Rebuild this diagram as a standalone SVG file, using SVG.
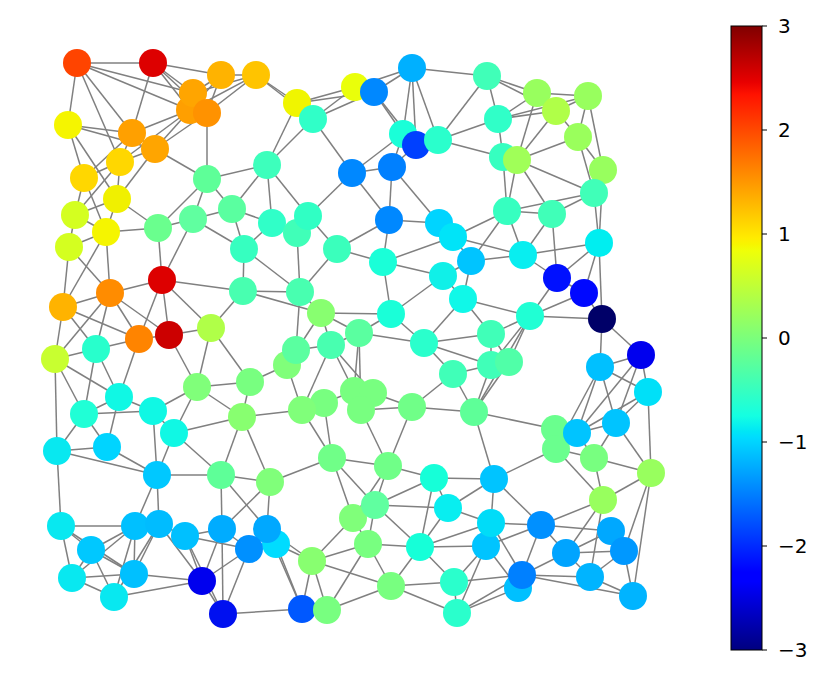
<svg xmlns="http://www.w3.org/2000/svg" width="830" height="683" viewBox="0 0 830 683">
<style>
.e line{stroke:#808080;stroke-width:1.5}
.n circle{stroke:none}
.t{font-family:"DejaVu Sans","Liberation Sans",sans-serif;font-size:20px;fill:#000}
.tick{stroke:#000;stroke-width:1}
</style>
<defs>
<linearGradient id="jet" x1="0" y1="1" x2="0" y2="0">
<stop offset="0" stop-color="#000080"/>
<stop offset="0.11" stop-color="#0000ff"/>
<stop offset="0.125" stop-color="#0000ff"/>
<stop offset="0.34" stop-color="#00dbff"/>
<stop offset="0.35" stop-color="#00e6f6"/>
<stop offset="0.375" stop-color="#14ffe2"/>
<stop offset="0.64" stop-color="#efff08"/>
<stop offset="0.65" stop-color="#f7f500"/>
<stop offset="0.66" stop-color="#ffec00"/>
<stop offset="0.89" stop-color="#ff1300"/>
<stop offset="0.91" stop-color="#e80000"/>
<stop offset="1" stop-color="#800000"/>
</linearGradient>
</defs>
<rect width="830" height="683" fill="#fff"/>
<g id="connectors" class="e">
<line x1="77" y1="63" x2="153" y2="63"/><line x1="77" y1="63" x2="193" y2="93"/><line x1="77" y1="63" x2="190" y2="110"/><line x1="77" y1="63" x2="68" y2="125"/><line x1="77" y1="63" x2="132" y2="133"/><line x1="77" y1="63" x2="120" y2="162"/>
<line x1="153" y1="63" x2="221" y2="75"/><line x1="153" y1="63" x2="193" y2="93"/><line x1="153" y1="63" x2="190" y2="110"/><line x1="153" y1="63" x2="207" y2="113"/><line x1="153" y1="63" x2="132" y2="133"/>
<line x1="221" y1="75" x2="256" y2="75"/><line x1="221" y1="75" x2="193" y2="93"/><line x1="221" y1="75" x2="190" y2="110"/><line x1="221" y1="75" x2="207" y2="113"/>
<line x1="256" y1="75" x2="193" y2="93"/><line x1="256" y1="75" x2="190" y2="110"/><line x1="256" y1="75" x2="207" y2="113"/><line x1="256" y1="75" x2="297" y2="103"/><line x1="256" y1="75" x2="313" y2="119"/>
<line x1="193" y1="93" x2="190" y2="110"/><line x1="193" y1="93" x2="207" y2="113"/><line x1="190" y1="110" x2="207" y2="113"/>
<line x1="68" y1="125" x2="132" y2="133"/><line x1="68" y1="125" x2="155" y2="149"/><line x1="68" y1="125" x2="84" y2="178"/><line x1="68" y1="125" x2="117" y2="199"/>
<line x1="132" y1="133" x2="190" y2="110"/><line x1="132" y1="133" x2="155" y2="149"/><line x1="132" y1="133" x2="120" y2="162"/><line x1="132" y1="133" x2="84" y2="178"/>
<line x1="155" y1="149" x2="190" y2="110"/><line x1="155" y1="149" x2="207" y2="113"/><line x1="155" y1="149" x2="120" y2="162"/><line x1="155" y1="149" x2="117" y2="199"/><line x1="155" y1="149" x2="207" y2="179"/>
<line x1="207" y1="113" x2="207" y2="179"/>
<line x1="120" y1="162" x2="84" y2="178"/><line x1="120" y1="162" x2="117" y2="199"/><line x1="120" y1="162" x2="75" y2="215"/><line x1="120" y1="162" x2="190" y2="110"/>
<line x1="84" y1="178" x2="75" y2="215"/><line x1="84" y1="178" x2="106" y2="232"/>
<line x1="117" y1="199" x2="75" y2="215"/><line x1="117" y1="199" x2="106" y2="232"/><line x1="117" y1="199" x2="158" y2="228"/>
<line x1="75" y1="215" x2="106" y2="232"/><line x1="75" y1="215" x2="69" y2="247"/>
<line x1="106" y1="232" x2="69" y2="247"/><line x1="106" y1="232" x2="158" y2="228"/><line x1="106" y1="232" x2="110" y2="293"/><line x1="106" y1="232" x2="63" y2="307"/>
<line x1="69" y1="247" x2="110" y2="293"/><line x1="69" y1="247" x2="63" y2="307"/>
<line x1="207" y1="179" x2="232" y2="209"/><line x1="207" y1="179" x2="193" y2="219"/><line x1="207" y1="179" x2="158" y2="228"/><line x1="207" y1="179" x2="267" y2="165"/>
<line x1="232" y1="209" x2="193" y2="219"/><line x1="232" y1="209" x2="267" y2="165"/><line x1="232" y1="209" x2="244" y2="249"/><line x1="232" y1="209" x2="272" y2="223"/>
<line x1="193" y1="219" x2="158" y2="228"/><line x1="193" y1="219" x2="244" y2="249"/><line x1="193" y1="219" x2="162" y2="280"/><line x1="158" y1="228" x2="162" y2="280"/>
<line x1="267" y1="165" x2="297" y2="103"/><line x1="267" y1="165" x2="313" y2="119"/><line x1="267" y1="165" x2="308" y2="216"/><line x1="267" y1="165" x2="272" y2="223"/>
<line x1="244" y1="249" x2="272" y2="223"/><line x1="244" y1="249" x2="300" y2="292"/><line x1="244" y1="249" x2="243" y2="291"/>
<line x1="297" y1="103" x2="355" y2="87"/><line x1="297" y1="103" x2="374" y2="92"/><line x1="297" y1="103" x2="313" y2="119"/>
<line x1="313" y1="119" x2="355" y2="87"/><line x1="313" y1="119" x2="374" y2="92"/><line x1="313" y1="119" x2="352" y2="173"/>
<line x1="355" y1="87" x2="412" y2="68"/><line x1="374" y1="92" x2="412" y2="68"/>
<line x1="412" y1="68" x2="403" y2="134"/><line x1="412" y1="68" x2="416" y2="145"/><line x1="412" y1="68" x2="438" y2="140"/><line x1="412" y1="68" x2="487" y2="76"/>
<line x1="374" y1="92" x2="403" y2="134"/><line x1="374" y1="92" x2="416" y2="145"/>
<line x1="403" y1="134" x2="352" y2="173"/><line x1="416" y1="145" x2="392" y2="167"/><line x1="403" y1="134" x2="392" y2="167"/>
<line x1="352" y1="173" x2="392" y2="167"/><line x1="352" y1="173" x2="389" y2="220"/><line x1="352" y1="173" x2="308" y2="216"/>
<line x1="392" y1="167" x2="389" y2="220"/><line x1="392" y1="167" x2="439" y2="223"/>
<line x1="389" y1="220" x2="439" y2="223"/><line x1="389" y1="220" x2="337" y2="249"/><line x1="389" y1="220" x2="383" y2="262"/>
<line x1="438" y1="140" x2="487" y2="76"/><line x1="438" y1="140" x2="498" y2="119"/><line x1="438" y1="140" x2="503" y2="157"/>
<line x1="308" y1="216" x2="297" y2="233"/><line x1="308" y1="216" x2="337" y2="249"/><line x1="297" y1="233" x2="272" y2="223"/><line x1="297" y1="233" x2="300" y2="292"/>
<line x1="337" y1="249" x2="383" y2="262"/><line x1="337" y1="249" x2="300" y2="292"/>
<line x1="487" y1="76" x2="537" y2="93"/><line x1="487" y1="76" x2="556" y2="111"/><line x1="487" y1="76" x2="498" y2="119"/>
<line x1="537" y1="93" x2="588" y2="96"/><line x1="537" y1="93" x2="498" y2="119"/><line x1="537" y1="93" x2="517" y2="160"/>
<line x1="588" y1="96" x2="556" y2="111"/><line x1="588" y1="96" x2="498" y2="119"/><line x1="588" y1="96" x2="578" y2="137"/><line x1="588" y1="96" x2="603" y2="170"/>
<line x1="556" y1="111" x2="498" y2="119"/><line x1="556" y1="111" x2="517" y2="160"/><line x1="556" y1="111" x2="578" y2="137"/>
<line x1="498" y1="119" x2="503" y2="157"/><line x1="578" y1="137" x2="517" y2="160"/><line x1="578" y1="137" x2="603" y2="170"/><line x1="578" y1="137" x2="594" y2="193"/>
<line x1="503" y1="157" x2="507" y2="211"/><line x1="517" y1="160" x2="594" y2="193"/><line x1="517" y1="160" x2="507" y2="211"/><line x1="517" y1="160" x2="552" y2="214"/>
<line x1="603" y1="170" x2="594" y2="193"/><line x1="603" y1="170" x2="599" y2="243"/>
<line x1="594" y1="193" x2="507" y2="211"/><line x1="594" y1="193" x2="552" y2="214"/><line x1="594" y1="193" x2="599" y2="243"/>
<line x1="507" y1="211" x2="552" y2="214"/><line x1="507" y1="211" x2="471" y2="261"/><line x1="507" y1="211" x2="523" y2="255"/><line x1="507" y1="211" x2="453" y2="237"/>
<line x1="552" y1="214" x2="523" y2="255"/><line x1="552" y1="214" x2="557" y2="278"/>
<line x1="439" y1="223" x2="453" y2="237"/><line x1="453" y1="237" x2="471" y2="261"/><line x1="453" y1="237" x2="523" y2="255"/><line x1="453" y1="237" x2="383" y2="262"/>
<line x1="599" y1="243" x2="523" y2="255"/><line x1="599" y1="243" x2="557" y2="278"/><line x1="599" y1="243" x2="584" y2="293"/><line x1="599" y1="243" x2="602" y2="319"/>
<line x1="471" y1="261" x2="523" y2="255"/><line x1="471" y1="261" x2="463" y2="299"/><line x1="471" y1="261" x2="443" y2="276"/>
<line x1="523" y1="255" x2="557" y2="278"/><line x1="557" y1="278" x2="584" y2="293"/><line x1="557" y1="278" x2="530" y2="316"/><line x1="584" y1="293" x2="602" y2="319"/><line x1="584" y1="293" x2="530" y2="316"/>
<line x1="602" y1="319" x2="530" y2="316"/><line x1="602" y1="319" x2="641" y2="355"/><line x1="602" y1="319" x2="600" y2="367"/>
<line x1="641" y1="355" x2="600" y2="367"/><line x1="641" y1="355" x2="648" y2="392"/><line x1="641" y1="355" x2="616" y2="423"/><line x1="641" y1="355" x2="577" y2="433"/>
<line x1="600" y1="367" x2="648" y2="392"/><line x1="600" y1="367" x2="616" y2="423"/><line x1="600" y1="367" x2="577" y2="433"/><line x1="600" y1="367" x2="556" y2="449"/>
<line x1="648" y1="392" x2="616" y2="423"/><line x1="648" y1="392" x2="577" y2="433"/><line x1="648" y1="392" x2="651" y2="473"/>
<line x1="616" y1="423" x2="577" y2="433"/><line x1="616" y1="423" x2="594" y2="458"/><line x1="616" y1="423" x2="651" y2="473"/>
<line x1="577" y1="433" x2="594" y2="458"/><line x1="577" y1="433" x2="556" y2="449"/>
<line x1="555" y1="429" x2="474" y2="412"/><line x1="556" y1="449" x2="594" y2="458"/><line x1="556" y1="449" x2="494" y2="479"/><line x1="556" y1="449" x2="603" y2="500"/>
<line x1="530" y1="316" x2="463" y2="299"/><line x1="530" y1="316" x2="491" y2="334"/><line x1="530" y1="316" x2="491" y2="365"/><line x1="530" y1="316" x2="509" y2="362"/><line x1="530" y1="316" x2="474" y2="412"/>
<line x1="463" y1="299" x2="443" y2="276"/><line x1="463" y1="299" x2="491" y2="334"/><line x1="463" y1="299" x2="424" y2="343"/>
<line x1="443" y1="276" x2="383" y2="262"/><line x1="443" y1="276" x2="391" y2="314"/>
<line x1="491" y1="334" x2="491" y2="365"/><line x1="491" y1="334" x2="509" y2="362"/><line x1="491" y1="334" x2="424" y2="343"/>
<line x1="491" y1="365" x2="453" y2="374"/><line x1="491" y1="365" x2="474" y2="412"/><line x1="491" y1="365" x2="424" y2="343"/><line x1="509" y1="362" x2="474" y2="412"/>
<line x1="453" y1="374" x2="474" y2="412"/><line x1="453" y1="374" x2="424" y2="343"/><line x1="453" y1="374" x2="412" y2="407"/>
<line x1="474" y1="412" x2="412" y2="407"/><line x1="474" y1="412" x2="494" y2="479"/>
<line x1="383" y1="262" x2="391" y2="314"/>
<line x1="300" y1="292" x2="243" y2="291"/><line x1="300" y1="292" x2="321" y2="313"/><line x1="300" y1="292" x2="296" y2="350"/>
<line x1="243" y1="291" x2="321" y2="313"/><line x1="243" y1="291" x2="162" y2="280"/><line x1="243" y1="291" x2="211" y2="328"/>
<line x1="321" y1="313" x2="391" y2="314"/><line x1="321" y1="313" x2="359" y2="333"/><line x1="321" y1="313" x2="331" y2="345"/><line x1="321" y1="313" x2="287" y2="365"/>
<line x1="391" y1="314" x2="359" y2="333"/><line x1="391" y1="314" x2="424" y2="343"/>
<line x1="359" y1="333" x2="424" y2="343"/><line x1="359" y1="333" x2="331" y2="345"/><line x1="359" y1="333" x2="354" y2="391"/><line x1="359" y1="333" x2="361" y2="410"/>
<line x1="331" y1="345" x2="296" y2="350"/><line x1="331" y1="345" x2="354" y2="391"/><line x1="331" y1="345" x2="373" y2="393"/><line x1="331" y1="345" x2="302" y2="410"/>
<line x1="287" y1="365" x2="302" y2="410"/><line x1="287" y1="365" x2="250" y2="382"/>
<line x1="354" y1="391" x2="324" y2="403"/><line x1="373" y1="393" x2="412" y2="407"/><line x1="324" y1="403" x2="302" y2="410"/><line x1="361" y1="410" x2="412" y2="407"/>
<line x1="302" y1="410" x2="242" y2="417"/><line x1="324" y1="403" x2="332" y2="458"/><line x1="302" y1="410" x2="332" y2="458"/><line x1="361" y1="410" x2="388" y2="466"/><line x1="412" y1="407" x2="388" y2="466"/>
<line x1="162" y1="280" x2="110" y2="293"/><line x1="162" y1="280" x2="211" y2="328"/><line x1="162" y1="280" x2="169" y2="335"/><line x1="162" y1="280" x2="139" y2="339"/>
<line x1="110" y1="293" x2="63" y2="307"/><line x1="110" y1="293" x2="169" y2="335"/><line x1="110" y1="293" x2="139" y2="339"/><line x1="110" y1="293" x2="96" y2="349"/><line x1="110" y1="293" x2="55" y2="359"/>
<line x1="63" y1="307" x2="139" y2="339"/><line x1="63" y1="307" x2="96" y2="349"/><line x1="63" y1="307" x2="55" y2="359"/>
<line x1="211" y1="328" x2="169" y2="335"/><line x1="211" y1="328" x2="197" y2="387"/><line x1="211" y1="328" x2="250" y2="382"/>
<line x1="169" y1="335" x2="139" y2="339"/><line x1="169" y1="335" x2="197" y2="387"/>
<line x1="139" y1="339" x2="96" y2="349"/><line x1="139" y1="339" x2="119" y2="397"/>
<line x1="96" y1="349" x2="55" y2="359"/><line x1="96" y1="349" x2="119" y2="397"/><line x1="96" y1="349" x2="84" y2="414"/>
<line x1="55" y1="359" x2="119" y2="397"/><line x1="55" y1="359" x2="84" y2="414"/><line x1="55" y1="359" x2="57" y2="451"/>
<line x1="197" y1="387" x2="250" y2="382"/><line x1="197" y1="387" x2="153" y2="411"/><line x1="197" y1="387" x2="174" y2="433"/><line x1="197" y1="387" x2="242" y2="417"/>
<line x1="250" y1="382" x2="242" y2="417"/>
<line x1="119" y1="397" x2="84" y2="414"/><line x1="119" y1="397" x2="153" y2="411"/><line x1="119" y1="397" x2="107" y2="447"/>
<line x1="84" y1="414" x2="153" y2="411"/><line x1="84" y1="414" x2="57" y2="451"/><line x1="84" y1="414" x2="107" y2="447"/>
<line x1="153" y1="411" x2="174" y2="433"/><line x1="153" y1="411" x2="157" y2="475"/>
<line x1="174" y1="433" x2="242" y2="417"/><line x1="174" y1="433" x2="157" y2="475"/><line x1="174" y1="433" x2="221" y2="475"/>
<line x1="242" y1="417" x2="221" y2="475"/><line x1="242" y1="417" x2="270" y2="482"/>
<line x1="57" y1="451" x2="107" y2="447"/><line x1="57" y1="451" x2="157" y2="475"/><line x1="57" y1="451" x2="61" y2="526"/>
<line x1="107" y1="447" x2="157" y2="475"/>
<line x1="157" y1="475" x2="221" y2="475"/><line x1="157" y1="475" x2="135" y2="526"/><line x1="157" y1="475" x2="159" y2="524"/>
<line x1="221" y1="475" x2="270" y2="482"/><line x1="221" y1="475" x2="222" y2="529"/><line x1="221" y1="475" x2="267" y2="529"/>
<line x1="270" y1="482" x2="222" y2="529"/><line x1="270" y1="482" x2="267" y2="529"/><line x1="270" y1="482" x2="332" y2="458"/>
<line x1="61" y1="526" x2="135" y2="526"/><line x1="61" y1="526" x2="91" y2="550"/><line x1="61" y1="526" x2="72" y2="578"/><line x1="61" y1="526" x2="134" y2="574"/>
<line x1="135" y1="526" x2="91" y2="550"/><line x1="135" y1="526" x2="72" y2="578"/><line x1="135" y1="526" x2="134" y2="574"/><line x1="135" y1="526" x2="114" y2="597"/>
<line x1="159" y1="524" x2="185" y2="536"/><line x1="159" y1="524" x2="134" y2="574"/><line x1="159" y1="524" x2="114" y2="597"/><line x1="159" y1="524" x2="202" y2="581"/>
<line x1="91" y1="550" x2="72" y2="578"/><line x1="91" y1="550" x2="134" y2="574"/><line x1="91" y1="550" x2="114" y2="597"/>
<line x1="185" y1="536" x2="222" y2="529"/><line x1="185" y1="536" x2="249" y2="549"/><line x1="185" y1="536" x2="202" y2="581"/><line x1="185" y1="536" x2="223" y2="614"/>
<line x1="222" y1="529" x2="202" y2="581"/><line x1="222" y1="529" x2="223" y2="614"/><line x1="222" y1="529" x2="249" y2="549"/>
<line x1="249" y1="549" x2="267" y2="529"/><line x1="249" y1="549" x2="202" y2="581"/><line x1="249" y1="549" x2="223" y2="614"/>
<line x1="267" y1="529" x2="312" y2="561"/><line x1="267" y1="529" x2="302" y2="609"/><line x1="276" y1="544" x2="312" y2="561"/><line x1="276" y1="544" x2="302" y2="609"/>
<line x1="72" y1="578" x2="134" y2="574"/><line x1="72" y1="578" x2="114" y2="597"/>
<line x1="134" y1="574" x2="202" y2="581"/><line x1="114" y1="597" x2="202" y2="581"/>
<line x1="202" y1="581" x2="223" y2="614"/><line x1="223" y1="614" x2="302" y2="609"/>
<line x1="332" y1="458" x2="388" y2="466"/><line x1="332" y1="458" x2="375" y2="505"/><line x1="332" y1="458" x2="353" y2="518"/>
<line x1="388" y1="466" x2="434" y2="478"/><line x1="388" y1="466" x2="375" y2="505"/><line x1="388" y1="466" x2="353" y2="518"/>
<line x1="434" y1="478" x2="375" y2="505"/><line x1="434" y1="478" x2="448" y2="508"/><line x1="434" y1="478" x2="420" y2="547"/><line x1="434" y1="478" x2="494" y2="479"/>
<line x1="375" y1="505" x2="448" y2="508"/><line x1="375" y1="505" x2="368" y2="544"/><line x1="375" y1="505" x2="420" y2="547"/>
<line x1="353" y1="518" x2="368" y2="544"/><line x1="353" y1="518" x2="312" y2="561"/>
<line x1="448" y1="508" x2="420" y2="547"/><line x1="448" y1="508" x2="494" y2="479"/><line x1="448" y1="508" x2="491" y2="523"/>
<line x1="368" y1="544" x2="420" y2="547"/><line x1="368" y1="544" x2="312" y2="561"/><line x1="368" y1="544" x2="391" y2="586"/><line x1="368" y1="544" x2="327" y2="610"/>
<line x1="420" y1="547" x2="391" y2="586"/><line x1="420" y1="547" x2="454" y2="582"/><line x1="420" y1="547" x2="491" y2="523"/><line x1="420" y1="547" x2="486" y2="546"/>
<line x1="312" y1="561" x2="391" y2="586"/><line x1="312" y1="561" x2="302" y2="609"/><line x1="312" y1="561" x2="327" y2="610"/>
<line x1="391" y1="586" x2="454" y2="582"/><line x1="391" y1="586" x2="327" y2="610"/><line x1="391" y1="586" x2="457" y2="613"/>
<line x1="454" y1="582" x2="457" y2="613"/><line x1="454" y1="582" x2="486" y2="546"/><line x1="454" y1="582" x2="522" y2="575"/>
<line x1="302" y1="609" x2="327" y2="610"/>
<line x1="457" y1="613" x2="486" y2="546"/><line x1="457" y1="613" x2="522" y2="575"/><line x1="457" y1="613" x2="518" y2="588"/>
<line x1="594" y1="458" x2="651" y2="473"/><line x1="594" y1="458" x2="603" y2="500"/>
<line x1="651" y1="473" x2="603" y2="500"/><line x1="651" y1="473" x2="624" y2="551"/><line x1="651" y1="473" x2="633" y2="596"/>
<line x1="494" y1="479" x2="491" y2="523"/><line x1="494" y1="479" x2="541" y2="525"/>
<line x1="603" y1="500" x2="541" y2="525"/><line x1="603" y1="500" x2="566" y2="553"/><line x1="603" y1="500" x2="590" y2="577"/>
<line x1="491" y1="523" x2="541" y2="525"/><line x1="491" y1="523" x2="486" y2="546"/><line x1="491" y1="523" x2="522" y2="575"/>
<line x1="541" y1="525" x2="611" y2="531"/><line x1="541" y1="525" x2="486" y2="546"/><line x1="541" y1="525" x2="566" y2="553"/><line x1="541" y1="525" x2="522" y2="575"/>
<line x1="611" y1="531" x2="566" y2="553"/><line x1="486" y1="546" x2="518" y2="588"/>
<line x1="566" y1="553" x2="624" y2="551"/><line x1="566" y1="553" x2="522" y2="575"/><line x1="566" y1="553" x2="590" y2="577"/>
<line x1="624" y1="551" x2="590" y2="577"/><line x1="624" y1="551" x2="633" y2="596"/>
<line x1="522" y1="575" x2="590" y2="577"/><line x1="522" y1="575" x2="633" y2="596"/><line x1="590" y1="577" x2="633" y2="596"/>
</g>
<g class="n">
<g id="n1"><circle cx="77" cy="63" r="14" fill="#ff4400"/></g>
<g id="n2"><circle cx="153" cy="63" r="14" fill="#dd0000"/></g>
<g id="n3"><circle cx="221" cy="75" r="14" fill="#ffb300"/></g>
<g id="n4"><circle cx="256" cy="75" r="14" fill="#ffc400"/></g>
<g id="n6"><circle cx="190" cy="110" r="14" fill="#ff9f00"/></g>
<g id="n5"><circle cx="193" cy="93" r="14" fill="#ffa500"/></g>
<g id="n7"><circle cx="207" cy="113" r="14" fill="#ff9200"/></g>
<g id="n8"><circle cx="68" cy="125" r="14" fill="#f5f500"/></g>
<g id="n9"><circle cx="132" cy="133" r="14" fill="#ffa000"/></g>
<g id="n10"><circle cx="155" cy="149" r="14" fill="#ffa500"/></g>
<g id="n11"><circle cx="120" cy="162" r="14" fill="#ffd700"/></g>
<g id="n12"><circle cx="84" cy="178" r="14" fill="#ffd700"/></g>
<g id="n13"><circle cx="117" cy="199" r="14" fill="#f0f000"/></g>
<g id="n14"><circle cx="75" cy="215" r="14" fill="#d4ff20"/></g>
<g id="n15"><circle cx="106" cy="232" r="14" fill="#f5f500"/></g>
<g id="n16"><circle cx="69" cy="247" r="14" fill="#d4ff20"/></g>
<g id="n17"><circle cx="207" cy="179" r="14" fill="#5eff98"/></g>
<g id="n18"><circle cx="232" cy="209" r="14" fill="#5affa0"/></g>
<g id="n19"><circle cx="193" cy="219" r="14" fill="#60ffa0"/></g>
<g id="n20"><circle cx="158" cy="228" r="14" fill="#6aff8e"/></g>
<g id="n21"><circle cx="267" cy="165" r="14" fill="#3dffbc"/></g>
<g id="n22"><circle cx="244" cy="249" r="14" fill="#36ffc0"/></g>
<g id="n23"><circle cx="297" cy="103" r="14" fill="#f0f500"/></g>
<g id="n24"><circle cx="313" cy="119" r="14" fill="#30ffc8"/></g>
<g id="n25"><circle cx="355" cy="87" r="14" fill="#eaff0a"/></g>
<g id="n26"><circle cx="374" cy="92" r="14" fill="#0088ff"/></g>
<g id="n27"><circle cx="412" cy="68" r="14" fill="#00b0ff"/></g>
<g id="n28"><circle cx="403" cy="134" r="14" fill="#1affd8"/></g>
<g id="n29"><circle cx="416" cy="145" r="14" fill="#0040ff"/></g>
<g id="n30"><circle cx="438" cy="140" r="14" fill="#2affcc"/></g>
<g id="n31"><circle cx="352" cy="173" r="14" fill="#0088ff"/></g>
<g id="n32"><circle cx="392" cy="167" r="14" fill="#0080ff"/></g>
<g id="n33"><circle cx="389" cy="220" r="14" fill="#0088ff"/></g>
<g id="n34"><circle cx="439" cy="223" r="14" fill="#00d4ff"/></g>
<g id="n35"><circle cx="453" cy="237" r="14" fill="#00e4f8"/></g>
<g id="n38"><circle cx="272" cy="223" r="14" fill="#30ffc8"/></g>
<g id="n37"><circle cx="297" cy="233" r="14" fill="#40ffb8"/></g>
<g id="n36"><circle cx="308" cy="216" r="14" fill="#30ffc4"/></g>
<g id="n39"><circle cx="337" cy="249" r="14" fill="#3affbc"/></g>
<g id="n40"><circle cx="487" cy="76" r="14" fill="#40ffb8"/></g>
<g id="n41"><circle cx="537" cy="93" r="14" fill="#98ff5e"/></g>
<g id="n42"><circle cx="588" cy="96" r="14" fill="#98ff5e"/></g>
<g id="n43"><circle cx="556" cy="111" r="14" fill="#b0ff48"/></g>
<g id="n44"><circle cx="498" cy="119" r="14" fill="#30ffc8"/></g>
<g id="n45"><circle cx="578" cy="137" r="14" fill="#9aff5c"/></g>
<g id="n46"><circle cx="503" cy="157" r="14" fill="#36ffc0"/></g>
<g id="n47"><circle cx="517" cy="160" r="14" fill="#a0ff58"/></g>
<g id="n48"><circle cx="603" cy="170" r="14" fill="#98ff5e"/></g>
<g id="n49"><circle cx="594" cy="193" r="14" fill="#40ffb8"/></g>
<g id="n50"><circle cx="507" cy="211" r="14" fill="#36ffc0"/></g>
<g id="n51"><circle cx="552" cy="214" r="14" fill="#40ffb8"/></g>
<g id="n52"><circle cx="599" cy="243" r="14" fill="#00eef0"/></g>
<g id="n53"><circle cx="471" cy="261" r="14" fill="#00c4ff"/></g>
<g id="n54"><circle cx="523" cy="255" r="14" fill="#08eef0"/></g>
<g id="n55"><circle cx="557" cy="278" r="14" fill="#0010ff"/></g>
<g id="n56"><circle cx="584" cy="293" r="14" fill="#0008ff"/></g>
<g id="n57"><circle cx="602" cy="319" r="14" fill="#000068"/></g>
<g id="n58"><circle cx="641" cy="355" r="14" fill="#0000ee"/></g>
<g id="n59"><circle cx="600" cy="367" r="14" fill="#00c0ff"/></g>
<g id="n60"><circle cx="648" cy="392" r="14" fill="#00e0f8"/></g>
<g id="n61"><circle cx="616" cy="423" r="14" fill="#00c4ff"/></g>
<g id="n63"><circle cx="555" cy="429" r="14" fill="#6aff8e"/></g>
<g id="n64"><circle cx="556" cy="449" r="14" fill="#6aff8e"/></g>
<g id="n62"><circle cx="577" cy="433" r="14" fill="#00c4ff"/></g>
<g id="n65"><circle cx="530" cy="316" r="14" fill="#20ffd4"/></g>
<g id="n66"><circle cx="463" cy="299" r="14" fill="#10f8e8"/></g>
<g id="n67"><circle cx="443" cy="276" r="14" fill="#10f0e8"/></g>
<g id="n68"><circle cx="491" cy="334" r="14" fill="#40ffb8"/></g>
<g id="n69"><circle cx="491" cy="365" r="14" fill="#40ffb8"/></g>
<g id="n70"><circle cx="509" cy="362" r="14" fill="#50ffa8"/></g>
<g id="n71"><circle cx="453" cy="374" r="14" fill="#40ffb8"/></g>
<g id="n72"><circle cx="474" cy="412" r="14" fill="#5eff98"/></g>
<g id="n73"><circle cx="383" cy="262" r="14" fill="#1affd8"/></g>
<g id="n74"><circle cx="300" cy="292" r="14" fill="#48ffb0"/></g>
<g id="n75"><circle cx="243" cy="291" r="14" fill="#48ffb0"/></g>
<g id="n76"><circle cx="321" cy="313" r="14" fill="#88ff70"/></g>
<g id="n77"><circle cx="391" cy="314" r="14" fill="#1affd8"/></g>
<g id="n78"><circle cx="359" cy="333" r="14" fill="#5affa0"/></g>
<g id="n79"><circle cx="424" cy="343" r="14" fill="#2affcc"/></g>
<g id="n82"><circle cx="287" cy="365" r="14" fill="#80ff7a"/></g>
<g id="n81"><circle cx="296" cy="350" r="14" fill="#5affa0"/></g>
<g id="n80"><circle cx="331" cy="345" r="14" fill="#48ffb0"/></g>
<g id="n83"><circle cx="354" cy="391" r="14" fill="#78ff80"/></g>
<g id="n84"><circle cx="373" cy="393" r="14" fill="#78ff80"/></g>
<g id="n85"><circle cx="324" cy="403" r="14" fill="#78ff80"/></g>
<g id="n86"><circle cx="302" cy="410" r="14" fill="#80ff7a"/></g>
<g id="n87"><circle cx="361" cy="410" r="14" fill="#78ff80"/></g>
<g id="n88"><circle cx="412" cy="407" r="14" fill="#70ff88"/></g>
<g id="n89"><circle cx="162" cy="280" r="14" fill="#dd0000"/></g>
<g id="n90"><circle cx="110" cy="293" r="14" fill="#ff8c00"/></g>
<g id="n91"><circle cx="63" cy="307" r="14" fill="#ffb300"/></g>
<g id="n92"><circle cx="211" cy="328" r="14" fill="#b0ff48"/></g>
<g id="n93"><circle cx="169" cy="335" r="14" fill="#cc0000"/></g>
<g id="n94"><circle cx="139" cy="339" r="14" fill="#ff8400"/></g>
<g id="n95"><circle cx="96" cy="349" r="14" fill="#28ffcc"/></g>
<g id="n96"><circle cx="55" cy="359" r="14" fill="#c8ff30"/></g>
<g id="n97"><circle cx="197" cy="387" r="14" fill="#80ff7a"/></g>
<g id="n98"><circle cx="250" cy="382" r="14" fill="#78ff80"/></g>
<g id="n99"><circle cx="119" cy="397" r="14" fill="#10f8e4"/></g>
<g id="n100"><circle cx="84" cy="414" r="14" fill="#20ffd6"/></g>
<g id="n101"><circle cx="153" cy="411" r="14" fill="#10f8e4"/></g>
<g id="n102"><circle cx="174" cy="433" r="14" fill="#10f8e4"/></g>
<g id="n103"><circle cx="242" cy="417" r="14" fill="#88ff70"/></g>
<g id="n104"><circle cx="57" cy="451" r="14" fill="#08e8f0"/></g>
<g id="n105"><circle cx="107" cy="447" r="14" fill="#00d4ff"/></g>
<g id="n106"><circle cx="157" cy="475" r="14" fill="#00c8ff"/></g>
<g id="n107"><circle cx="221" cy="475" r="14" fill="#5eff98"/></g>
<g id="n108"><circle cx="270" cy="482" r="14" fill="#80ff7a"/></g>
<g id="n109"><circle cx="61" cy="526" r="14" fill="#08e8f0"/></g>
<g id="n110"><circle cx="135" cy="526" r="14" fill="#00c0ff"/></g>
<g id="n111"><circle cx="159" cy="524" r="14" fill="#00bcff"/></g>
<g id="n112"><circle cx="91" cy="550" r="14" fill="#00c8ff"/></g>
<g id="n113"><circle cx="185" cy="536" r="14" fill="#00c0ff"/></g>
<g id="n114"><circle cx="222" cy="529" r="14" fill="#00acff"/></g>
<g id="n117"><circle cx="276" cy="544" r="14" fill="#00dcff"/></g>
<g id="n116"><circle cx="267" cy="529" r="14" fill="#00a8ff"/></g>
<g id="n115"><circle cx="249" cy="549" r="14" fill="#0090ff"/></g>
<g id="n118"><circle cx="72" cy="578" r="14" fill="#08e8f0"/></g>
<g id="n119"><circle cx="134" cy="574" r="14" fill="#00c0ff"/></g>
<g id="n120"><circle cx="114" cy="597" r="14" fill="#08e8f0"/></g>
<g id="n121"><circle cx="202" cy="581" r="14" fill="#0000ee"/></g>
<g id="n122"><circle cx="223" cy="614" r="14" fill="#0010f0"/></g>
<g id="n123"><circle cx="332" cy="458" r="14" fill="#70ff88"/></g>
<g id="n124"><circle cx="388" cy="466" r="14" fill="#70ff88"/></g>
<g id="n125"><circle cx="434" cy="478" r="14" fill="#16ffd8"/></g>
<g id="n127"><circle cx="353" cy="518" r="14" fill="#80ff7a"/></g>
<g id="n126"><circle cx="375" cy="505" r="14" fill="#60ffa0"/></g>
<g id="n128"><circle cx="448" cy="508" r="14" fill="#08eef0"/></g>
<g id="n129"><circle cx="368" cy="544" r="14" fill="#78ff80"/></g>
<g id="n130"><circle cx="420" cy="547" r="14" fill="#16ffd8"/></g>
<g id="n131"><circle cx="312" cy="561" r="14" fill="#88ff70"/></g>
<g id="n132"><circle cx="391" cy="586" r="14" fill="#78ff80"/></g>
<g id="n133"><circle cx="454" cy="582" r="14" fill="#2affcc"/></g>
<g id="n134"><circle cx="302" cy="609" r="14" fill="#0058ff"/></g>
<g id="n135"><circle cx="327" cy="610" r="14" fill="#78ff80"/></g>
<g id="n136"><circle cx="457" cy="613" r="14" fill="#2affcc"/></g>
<g id="n137"><circle cx="594" cy="458" r="14" fill="#78ff80"/></g>
<g id="n138"><circle cx="651" cy="473" r="14" fill="#98ff5e"/></g>
<g id="n139"><circle cx="494" cy="479" r="14" fill="#00c4ff"/></g>
<g id="n140"><circle cx="603" cy="500" r="14" fill="#98ff5e"/></g>
<g id="n144"><circle cx="486" cy="546" r="14" fill="#00c4ff"/></g>
<g id="n141"><circle cx="491" cy="523" r="14" fill="#00dcf8"/></g>
<g id="n142"><circle cx="541" cy="525" r="14" fill="#0090ff"/></g>
<g id="n143"><circle cx="611" cy="531" r="14" fill="#00a8ff"/></g>
<g id="n145"><circle cx="566" cy="553" r="14" fill="#00a4ff"/></g>
<g id="n146"><circle cx="624" cy="551" r="14" fill="#0098ff"/></g>
<g id="n148"><circle cx="518" cy="588" r="14" fill="#00c0ff"/></g>
<g id="n147"><circle cx="522" cy="575" r="14" fill="#0080ff"/></g>
<g id="n149"><circle cx="590" cy="577" r="14" fill="#00b4ff"/></g>
<g id="n150"><circle cx="633" cy="596" r="14" fill="#00b4ff"/></g>
</g>
<g id="colorbar">
<rect x="731" y="26" width="31" height="624" fill="url(#jet)" stroke="#000" stroke-width="1"/>
<line class="tick" x1="762" y1="26" x2="767" y2="26"/>
<line class="tick" x1="762" y1="130" x2="767" y2="130"/>
<line class="tick" x1="762" y1="234" x2="767" y2="234"/>
<line class="tick" x1="762" y1="338" x2="767" y2="338"/>
<line class="tick" x1="762" y1="442" x2="767" y2="442"/>
<line class="tick" x1="762" y1="546" x2="767" y2="546"/>
<line class="tick" x1="762" y1="650" x2="767" y2="650"/>
<text class="t" x="778" y="33">3</text>
<text class="t" x="778" y="137">2</text>
<text class="t" x="778" y="241">1</text>
<text class="t" x="778" y="345">0</text>
<text class="t" x="778" y="449">−1</text>
<text class="t" x="778" y="553">−2</text>
<text class="t" x="778" y="657">−3</text>
</g>
</svg>
